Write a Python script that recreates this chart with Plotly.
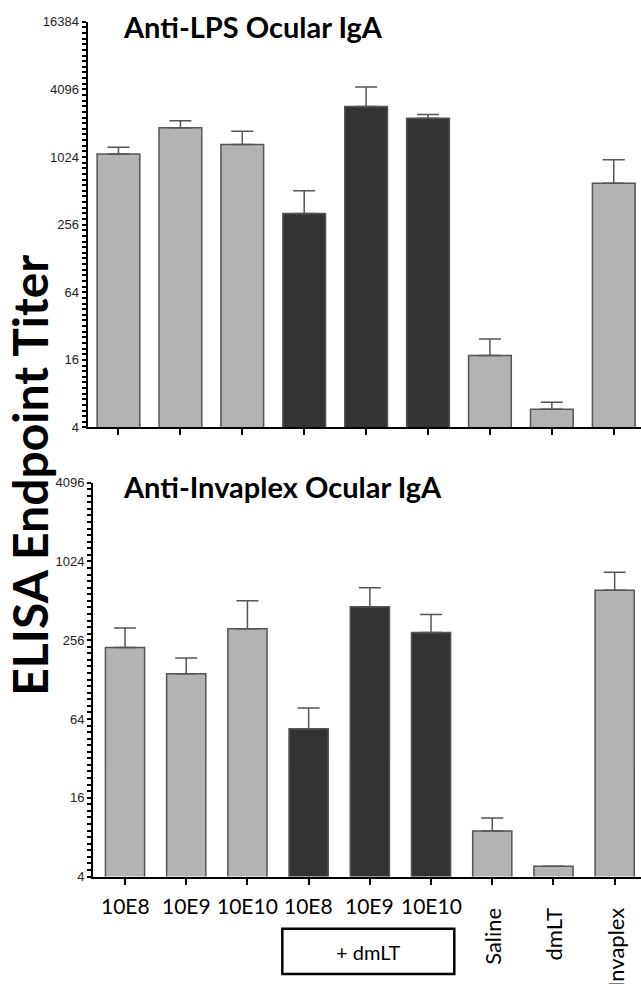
import numpy as np
import plotly.graph_objects as go

# ---------------- data ----------------
categories = ["10E8", "10E9", "10E10", "10E8 + dmLT", "10E9 + dmLT",
              "10E10 + dmLT", "Saline", "dmLT", "Invaplex"]
tick_labels = ["10E8", "10E9", "10E10", "10E8", "10E9", "10E10",
               "Saline", "dmLT", "Invaplex"]
rotated = [False, False, False, False, False, False, True, True, True]
groups = ["plain", "plain", "plain", "dmLT", "dmLT", "dmLT",
          "plain", "plain", "plain"]

lps_mean = [1090, 1870, 1325, 322, 2890, 2270, 17.5, 5.8, 597]
lps_upper = [1250, 2150, 1735, 512, 4300, 2450, 24.6, 6.7, 970]
inv_mean = [225, 142, 313, 54, 461, 293, 8.9, 4.8, 617]
inv_upper = [317, 187, 512, 77.5, 645, 402, 11.2, 4.8, 845]

y_ticks_top = [4, 16, 64, 256, 1024, 4096, 16384]
y_ticks_bot = [4, 16, 64, 256, 1024, 4096]

titles = ["Anti-LPS Ocular IgA", "Anti-Invaplex Ocular IgA"]
y_title = "ELISA Endpoint Titer"
box_label = "+ dmLT"

# ---------------- style ----------------
W, H = 641, 984
LIGHT, DARK, EDGE = "#b3b3b3", "#333333", "#555555"
colors = [DARK if g == "dmLT" else LIGHT for g in groups]
xs = list(range(len(categories)))


def px_y(p):
    return 1 - p / H


def log_ticks(majors, per_octave=6):
    """major labelled ticks plus unlabelled minor ticks between them"""
    lo, hi = np.log2(majors[0]), np.log2(majors[-1])
    vals, text = [], []
    for k in range(int(lo * per_octave), int(hi * per_octave) + 1):
        v = 2 ** (k / per_octave)
        vals.append(v)
        text.append(str(int(round(v))) if any(abs(v - m) < 1e-6 for m in majors) else "")
    return vals, text


fig = go.Figure()
for mean, upper, xa, ya, bw in [(lps_mean, lps_upper, "x", "y", 0.69),
                                (inv_mean, inv_upper, "x2", "y2", 0.64)]:
    err = [u - m for u, m in zip(upper, mean)]
    fig.add_trace(go.Bar(
        x=xs, y=mean, xaxis=xa, yaxis=ya, width=bw,
        marker=dict(color=colors, line=dict(color=EDGE, width=1.5)),
        error_y=dict(type="data", symmetric=False, array=err,
                     arrayminus=[0] * len(err), color=EDGE,
                     thickness=1.5, width=11),
        hovertext=categories, showlegend=False))

common_x = dict(showline=True, linecolor="black", linewidth=2,
                ticks="outside", ticklen=6, tickwidth=2, tickcolor="black",
                tickmode="array", tickvals=xs, showticklabels=False,
                showgrid=False, zeroline=False)
common_y = dict(type="log", showline=True, linecolor="black", linewidth=2,
                ticks="outside", ticklen=4, tickwidth=1.6, tickcolor="black",
                showgrid=False, zeroline=False, tickmode="array",
                tickfont=dict(family="Liberation Sans, Arial", size=13,
                              color="#222"))

tv_top, tt_top = log_ticks(y_ticks_top)
tv_bot, tt_bot = log_ticks(y_ticks_bot)

fig.update_layout(
    width=W, height=H, margin=dict(l=0, r=0, t=0, b=0),
    paper_bgcolor="white", plot_bgcolor="white", bargap=0.3,
    xaxis=dict(domain=[87.5 / W, 1], range=[-0.5, 8.44], anchor="y",
               **common_x),
    yaxis=dict(domain=[px_y(427), px_y(15)], anchor="x",
               range=[np.log10(4), np.log10(16384)],
               tickvals=tv_top, ticktext=tt_top, **common_y),
    xaxis2=dict(domain=[93 / W, 1], range=[-0.523, 8.43], anchor="y2",
                **common_x),
    yaxis2=dict(domain=[px_y(883), px_y(483)], anchor="x2",
                range=[np.log10(4), np.log10(4096)],
                tickvals=tv_bot, ticktext=tt_bot, **common_y),
)

ann = []
# panel titles
ann.append(dict(text="<b>" + titles[0] + "</b>", xref="paper", yref="paper",
                x=121 / W, y=px_y(20), xanchor="left", yanchor="middle",
                showarrow=False,
                font=dict(family="Lato", size=29, color="black")))
ann.append(dict(text="<b>" + titles[1] + "</b>", xref="paper", yref="paper",
                x=121 / W, y=px_y(487), xanchor="left", yanchor="middle",
                showarrow=False,
                font=dict(family="Lato", size=29, color="black")))
# shared y title
ann.append(dict(text="<b>" + y_title + "</b>", xref="paper", yref="paper",
                x=30 / W, y=px_y(476), textangle=-90, showarrow=False,
                xanchor="center", yanchor="middle",
                font=dict(family="Lato", size=48, color="black")))
# category labels under bottom panel
for x, lab, rot in zip(xs, tick_labels, rotated):
    if rot:
        ann.append(dict(text=lab, xref="x2", yref="paper", x=x,
                        y=px_y(913), textangle=-90, showarrow=False,
                        xanchor="center", yanchor="top",
                        font=dict(family="Lato", size=22, color="black")))
    else:
        ann.append(dict(text=lab, xref="x2", yref="paper", x=x,
                        y=px_y(912), showarrow=False,
                        xanchor="center", yanchor="middle",
                        font=dict(family="Lato", size=21, color="black")))
ann.append(dict(text=box_label, xref="x2", yref="paper", x=3.97,
                y=px_y(960), showarrow=False, xanchor="center",
                yanchor="middle",
                font=dict(family="Lato", size=20, color="black")))
fig.update_layout(annotations=ann)

fig.add_shape(type="rect", xref="x2", yref="paper", x0=2.57, x1=5.38,
              y0=px_y(982), y1=px_y(936),
              line=dict(color="black", width=2.5), fillcolor="rgba(0,0,0,0)")

fig.write_html("out.html")
